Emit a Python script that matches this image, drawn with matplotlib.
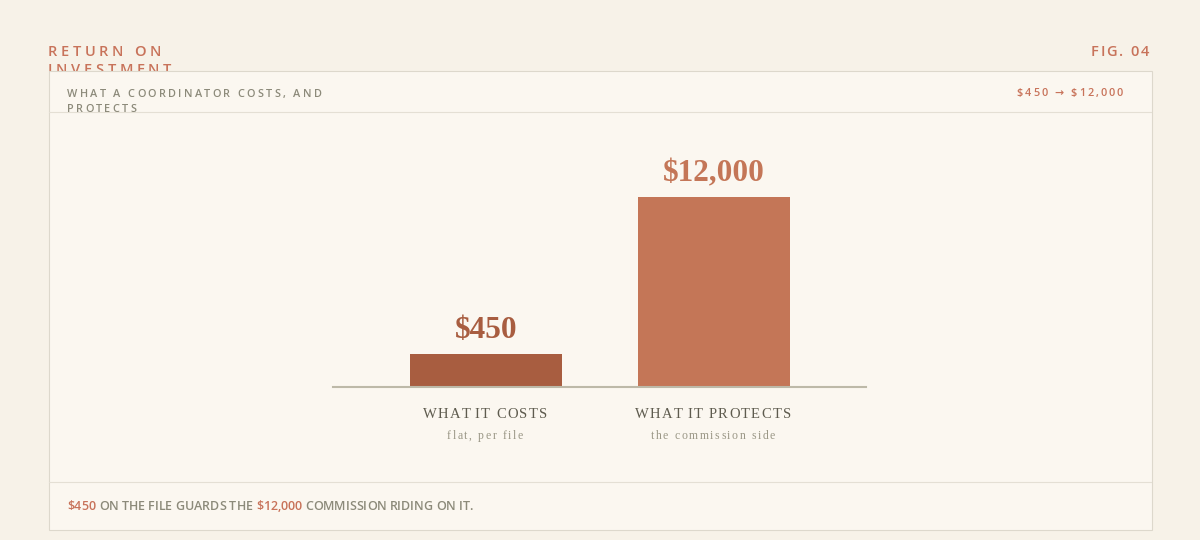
import matplotlib
matplotlib.use('Agg')
import matplotlib.pyplot as plt
from matplotlib.font_manager import FontProperties
from matplotlib.patches import Rectangle
from matplotlib.transforms import IdentityTransform

W, H = 1200, 540

categories = ['WHAT IT COSTS', 'WHAT IT PROTECTS']
notes = ['flat, per file', 'the commission side']
values = [450, 12000]
bar_colors = ['#A85D40', '#C47657']

SANS = ['Open Sans', 'DejaVu Sans']
SERIF = ['Liberation Serif', 'DejaVu Serif']
ACCENT = '#C8735A'
GREY = '#8C8A7A'


def tracked(fig, x, y, s, size, color, track=0.0, ha='left', family=SANS,
            weight='normal', zorder=3):
    """Draw text char by char (pixel coords, y from top) with letter spacing."""
    fp = FontProperties(family=family, size=size, weight=weight)
    r = fig.canvas.get_renderer()

    def width(t):
        return r.get_text_width_height_descent(t, fp, ismath=False)[0]

    base = width('ll')
    offs = [width('l' + s[:i] + 'l') - base for i in range(len(s) + 1)]
    total = offs[-1] + track * (len(s) - 1)
    if ha == 'center':
        x -= total / 2
    elif ha == 'right':
        x -= total
    for i, ch in enumerate(s):
        if ch == ' ':
            continue
        fig.text(x + offs[i] + i * track, H - y, ch,
                 transform=IdentityTransform(), fontproperties=fp,
                 color=color, va='baseline', ha='left', zorder=zorder,
                 parse_math=False)
    return x + total


fig = plt.figure(figsize=(W / 100, H / 100), dpi=100, facecolor='#F7F2E8')

# title, second line slips under the card
tracked(fig, 48, 56, 'RETURN ON', 10.5, ACCENT, 3.6, weight='semibold')
tracked(fig, 48, 74, 'INVESTMENT', 10.5, ACCENT, 3.6, weight='semibold',
        zorder=0.5)
tracked(fig, 1149, 56, 'FIG. 04', 10.5, ACCENT, 1.8, ha='right',
        weight='semibold')

# card
card = Rectangle((48.5, H - 529.5), 1103, 459, transform=IdentityTransform(),
                 facecolor='#FBF7F0', edgecolor='#DDD8CC', lw=0.8, zorder=1)
fig.add_artist(card)
for yy in (112, 482):
    fig.add_artist(plt.Line2D([49, 1151], [H - yy, H - yy],
                              transform=IdentityTransform(),
                              color='#E4DFD4', lw=0.8, zorder=1.5))

tracked(fig, 67, 97, 'WHAT A COORDINATOR COSTS, AND', 7.8, GREY, 2.4,
        weight='semibold')
tracked(fig, 67, 112, 'PROTECTS', 7.8, GREY, 2.4, weight='semibold')
tracked(fig, 1123, 96, f'${values[0]:,} \u2192 ${values[1]:,}', 7.8, ACCENT,
        2.0, ha='right', weight='semibold')

# bars
ax = fig.add_axes([333 / W, 153 / H, 533 / W, 190 / H], zorder=2)
ax.set_facecolor('none')
p = 0.53
ax.set_yscale('function', functions=(lambda v: abs(v) ** p,
                                     lambda v: abs(v) ** (1 / p)))
x = list(range(len(values)))
ax.bar(x, values, width=0.667, color=bar_colors, zorder=2)
ax.set_xlim(-0.671, 1.667)
ax.set_ylim(0, max(values))
ax.axhline(0, color='#BDB9A8', lw=1.5, clip_on=False, zorder=3)
for s in ax.spines.values():
    s.set_visible(False)
ax.set_xticks([])
ax.set_yticks([])
ax.minorticks_off()

for i, v in enumerate(values):
    ax.annotate(f'${v:,}', (i, v), xytext=(0, 11), textcoords='offset points',
                ha='center', va='baseline', fontsize=22.5, fontweight='bold',
                family=SERIF, color=bar_colors[i], parse_math=False,
                annotation_clip=False)
    cx = ax.transData.transform((i, 0))[0]
    tracked(fig, cx - 1, 418, categories[i], 10.5, '#5E5B4E', 1.35,
            ha='center', family=SERIF)
    tracked(fig, cx - 1, 439, notes[i], 8.5, '#9A9786', 1.6, ha='center',
            family=SERIF)

# footer
fx = 67
for txt, col in [(f'${values[0]:,}', ACCENT),
                 (' ON THE FILE GUARDS THE ', GREY),
                 (f'${values[1]:,}', ACCENT),
                 (' COMMISSION RIDING ON IT.', GREY)]:
    fx = tracked(fig, fx, 510, txt, 9, col, 0.0, weight='semibold')

fig.savefig('out.png', dpi=100, facecolor=fig.get_facecolor())
